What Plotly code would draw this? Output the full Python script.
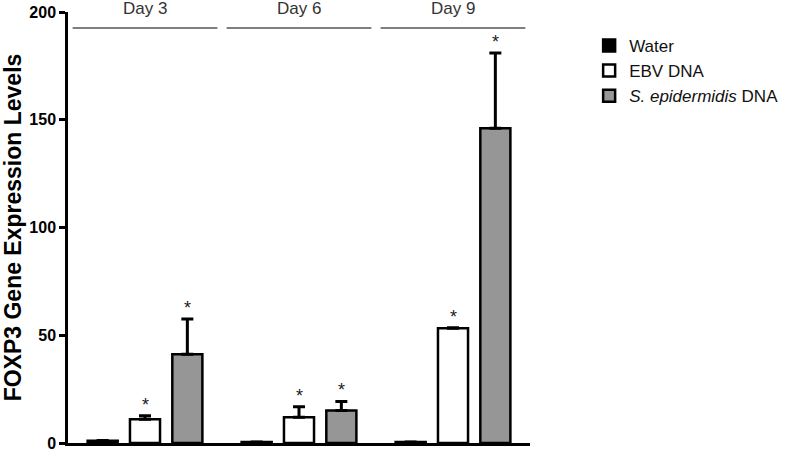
import plotly.graph_objects as go

days = ["Day 3", "Day 6", "Day 9"]
series_names = ["Water", "EBV DNA", "<i>S. epidermidis</i> DNA"]
water = [1.0, 0.5, 0.5]
water_err = [0.2, 0.0, 0.0]
ebv = [11.0, 12.0, 53.2]
ebv_err = [1.6, 4.8, 0.3]
sepi = [41.2, 15.1, 146.0]
sepi_err = [16.3, 4.2, 35.0]
stars_ebv = ["*", "*", "*"]
stars_sepi = ["*", "*", "*"]
yticks = [0, 50, 100, 150, 200]

FONT = "Liberation Sans, Arial, sans-serif"
BARGAP = 0.175
xs = list(range(len(days)))

fig = go.Figure()
fills = ["#000000", "#ffffff", "#969696"]
values = [water, ebv, sepi]
errs = [water_err, ebv_err, sepi_err]
for name, vals, err, col in zip(series_names, values, errs, fills):
    fig.add_trace(go.Bar(
        x=xs, y=vals, name=name,
        marker=dict(color=col, line=dict(color="#000000", width=2.5)),
        error_y=dict(type="data", symmetric=False, array=err,
                     arrayminus=[0] * len(err),
                     color="#000000", thickness=3, width=6),
    ))

slot = (1 - BARGAP) / 3
annotations = []
for k, (vals, err, stars) in enumerate([(ebv, ebv_err, stars_ebv), (sepi, sepi_err, stars_sepi)], start=1):
    for i in xs:
        annotations.append(dict(
            x=i + (k - 1) * slot, y=vals[i] + err[i], xref="x", yref="y",
            text=stars[i], showarrow=False, yanchor="bottom", yshift=-1,
            font=dict(family=FONT, size=18, color="#222222")))

shapes = []
for i, d in enumerate(days):
    shapes.append(dict(type="line", xref="x", yref="y",
                       x0=i - 0.47, x1=i + 0.47, y0=192.6, y1=192.6,
                       line=dict(color="#555555", width=1.5)))
    annotations.append(dict(x=i, y=1.0, xref="x", yref="paper", text=d,
                            showarrow=False, yanchor="middle", yshift=4,
                            font=dict(family=FONT, size=17, color="#333333")))

fig.update_layout(
    width=800, height=450,
    margin=dict(l=68, r=270, t=12, b=7, autoexpand=False),
    paper_bgcolor="white", plot_bgcolor="white",
    barmode="group", bargap=BARGAP, bargroupgap=0.29,
    showlegend=True,
    legend=dict(x=1.128, y=0.963, xanchor="left", yanchor="top",
                font=dict(family=FONT, size=17, color="#111111"),
                bgcolor="rgba(0,0,0,0)", tracegroupgap=0),
    xaxis=dict(range=[-0.5, 2.5], showticklabels=False, ticks="",
               showgrid=False, zeroline=False, showline=True,
               linecolor="#000000", linewidth=2.5, automargin=False),
    yaxis=dict(range=[0, 200], tickvals=yticks, ticks="outside", ticklen=6,
               tickwidth=2.5, tickcolor="#000000", showgrid=False,
               zeroline=False, showline=True, linecolor="#000000", linewidth=2.5,
               ticklabeloverflow="allow", automargin=False,
               tickfont=dict(family=FONT, size=16, color="#000000", weight="bold"),
               title=dict(text="<b>FOXP3 Gene Expression Levels</b>", standoff=6,
                          font=dict(family=FONT, size=23, color="#000000"))),
    shapes=shapes, annotations=annotations,
)
fig.write_html("out.html", config={"displayModeBar": False},
               post_script="document.body.style.margin='0px';")
